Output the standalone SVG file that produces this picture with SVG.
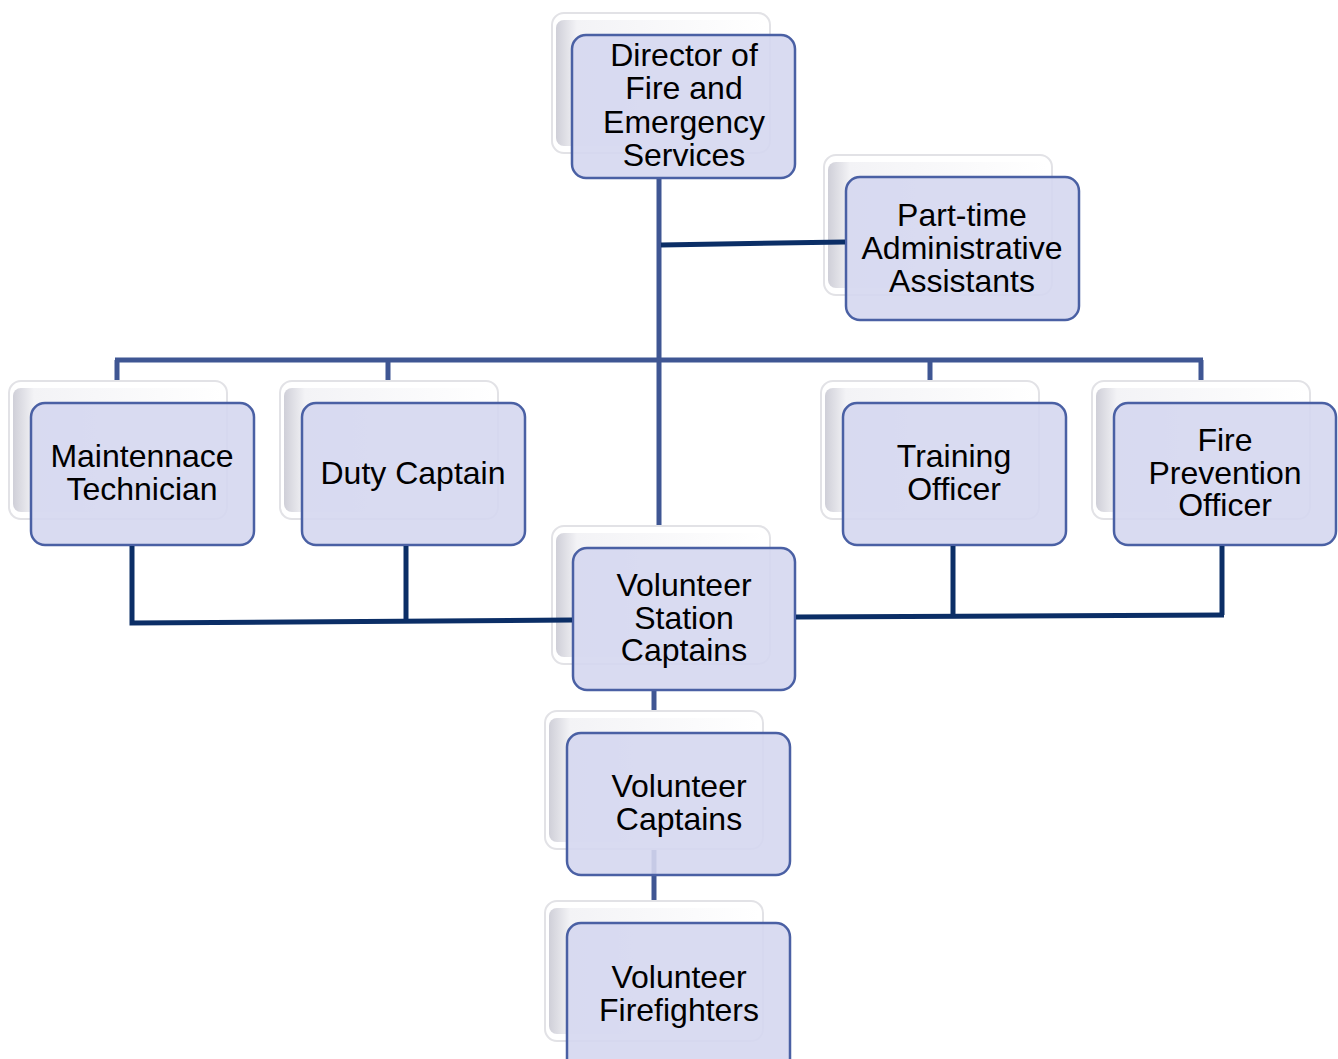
<svg xmlns="http://www.w3.org/2000/svg" width="1338" height="1059" viewBox="0 0 1338 1059">
<defs>
<linearGradient id="bevel" x1="0" y1="0" x2="1" y2="0">
<stop offset="0" stop-color="#cfcfd8"/>
<stop offset="0.1" stop-color="#f3f3f6"/>
<stop offset="1" stop-color="#ffffff"/>
</linearGradient>
<style>
.back{fill:#ffffff;stroke:#e2e2e6;stroke-width:2}
.bev{fill:url(#bevel)}
.front{fill:#d5d7f0;fill-opacity:0.9;stroke:#4a60a4;stroke-width:2.5}
.t{font-family:"Liberation Sans",Arial,sans-serif;font-size:32px;fill:#000;text-anchor:middle}
.blue{stroke:#3f5693;stroke-width:5;fill:none}
.navy{stroke:#0b2e66;stroke-width:5;fill:none}
</style>
</defs>
<rect width="1338" height="1059" fill="#ffffff"/>
<g id="connectors">
<path class="blue" d="M659 178 V525"/>
<path class="blue" d="M115 360 H1203"/>
<path class="blue" d="M117 360 V381 M388 360 V381 M930 360 V381 M1201 360 V381"/>
<path class="blue" d="M654 690 V733"/>
<path class="blue" d="M654 850 V923"/>
</g>
<g id="director">
<rect class="back" x="552" y="13" width="218" height="140" rx="12"/>
<rect class="bev" x="556" y="20" width="210" height="126" rx="8"/>
<rect class="front" x="572" y="35" width="223" height="143" rx="14"/>
<text class="t" x="684" y="66">Director of</text>
<text class="t" x="684" y="99">Fire and</text>
<text class="t" x="684" y="133">Emergency</text>
<text class="t" x="684" y="166">Services</text>
</g>
<g id="parttime">
<rect class="back" x="824" y="155" width="228" height="140" rx="12"/>
<rect class="bev" x="828" y="162" width="220" height="126" rx="8"/>
<rect class="front" x="846" y="177" width="233" height="143" rx="14"/>
<text class="t" x="962" y="226">Part-time</text>
<text class="t" x="962" y="259">Administrative</text>
<text class="t" x="962" y="292">Assistants</text>
</g>
<g id="maintenance">
<rect class="back" x="9" y="381" width="218" height="138" rx="12"/>
<rect class="bev" x="13" y="388" width="210" height="124" rx="8"/>
<rect class="front" x="31" y="403" width="223" height="142" rx="14"/>
<text class="t" x="142" y="467">Maintennace</text>
<text class="t" x="142" y="500">Technician</text>
</g>
<g id="duty">
<rect class="back" x="280" y="381" width="218" height="138" rx="12"/>
<rect class="bev" x="284" y="388" width="210" height="124" rx="8"/>
<rect class="front" x="302" y="403" width="223" height="142" rx="14"/>
<text class="t" x="413" y="484">Duty Captain</text>
</g>
<g id="training">
<rect class="back" x="821" y="381" width="218" height="138" rx="12"/>
<rect class="bev" x="825" y="388" width="210" height="124" rx="8"/>
<rect class="front" x="843" y="403" width="223" height="142" rx="14"/>
<text class="t" x="954" y="467">Training</text>
<text class="t" x="954" y="500">Officer</text>
</g>
<g id="fireprevention">
<rect class="back" x="1092" y="381" width="218" height="138" rx="12"/>
<rect class="bev" x="1096" y="388" width="210" height="124" rx="8"/>
<rect class="front" x="1114" y="403" width="222" height="142" rx="14"/>
<text class="t" x="1225" y="451">Fire</text>
<text class="t" x="1225" y="484">Prevention</text>
<text class="t" x="1225" y="516">Officer</text>
</g>
<g id="stationcaptains">
<rect class="back" x="552" y="526" width="218" height="138" rx="12"/>
<rect class="bev" x="556" y="533" width="210" height="124" rx="8"/>
<rect class="front" x="573" y="548" width="222" height="142" rx="14"/>
<text class="t" x="684" y="596">Volunteer</text>
<text class="t" x="684" y="629">Station</text>
<text class="t" x="684" y="661">Captains</text>
</g>
<g id="captains">
<rect class="back" x="545" y="711" width="218" height="138" rx="12"/>
<rect class="bev" x="549" y="718" width="210" height="124" rx="8"/>
<rect class="front" x="567" y="733" width="223" height="142" rx="14"/>
<text class="t" x="679" y="797">Volunteer</text>
<text class="t" x="679" y="830">Captains</text>
</g>
<g id="firefighters">
<rect class="back" x="545" y="901" width="218" height="140" rx="12"/>
<rect class="bev" x="549" y="908" width="210" height="126" rx="8"/>
<rect class="front" x="567" y="923" width="223" height="150" rx="14"/>
<text class="t" x="679" y="988">Volunteer</text>
<text class="t" x="679" y="1021">Firefighters</text>
</g>
<g id="connectors-staff">
<path class="navy" d="M661 245 L845 242"/>
<path class="navy" d="M132 546 V623 L572 620"/>
<path class="navy" d="M406 546 V621"/>
<path class="navy" d="M796 617 L1224 615"/>
<path class="navy" d="M953 546 V616"/>
<path class="navy" d="M1222 546 V615"/>
</g>
</svg>
